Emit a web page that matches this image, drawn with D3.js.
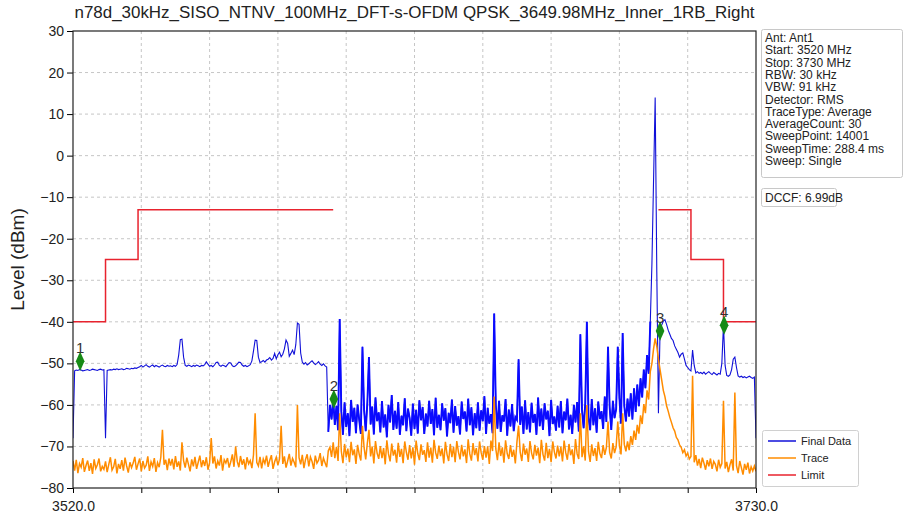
<!DOCTYPE html>
<html><head><meta charset="utf-8">
<script src="https://cdn.jsdelivr.net/npm/d3@7"></script>
<style>body{margin:0;background:#fff}svg{display:block}text{font-family:"Liberation Sans",Arial,sans-serif}</style>
</head><body><svg id="c" width="905" height="516"></svg>
<script>
const title = "n78d_30kHz_SISO_NTNV_100MHz_DFT-s-OFDM QPSK_3649.98MHz_Inner_1RB_Right";
const freqStart = 3520, freqStop = 3730, freqStep = 0.5;
const xTicks = [3520,3541,3562,3583,3604,3625,3646,3667,3688,3709,3730];
const xTickLabels = ["3520.0","","","","","","","","","","3730.0"];
const yTicks = [30,20,10,0,-10,-20,-30,-40,-50,-60,-70,-80];
// Final Data (one value per 0.5 MHz)
const finalData = [
-68,-51.8,-51.6,-51.7,-51.5,-51.6,-51.8,-51.7,-51.6,-51.5,-51.7,-51.6,-51.4,-51.5,-51.6,-51.7,-51.5,-51.4,-51.6,-51.5,
-68,-51.7,-51.6,-51.5,-51.6,-51.4,-51.5,-51.3,-51.5,-51.4,-51.3,-51.5,-51.4,-51.2,-51.3,-51.4,-51.2,-51.3,-51.1,-51.2,
-51.0,-50.8,-50.5,-50.9,-50.6,-50.3,-50.7,-50.9,-50.6,-50.4,-50.8,-50.5,-50.7,-50.9,-50.6,-50.4,-50.7,-50.8,-50.5,-50.7,
-50.6,-50.8,-50.5,-50.7,-50.3,-48.0,-44.3,-44.2,-48.5,-50.5,-50.7,-50.4,-50.6,-50.8,-50.5,-50.7,-50.4,-50.6,-50.8,-50.5,
-50.6,-50.3,-49.6,-50.2,-50.7,-50.5,-50.8,-50.4,-49.8,-49.7,-50.5,-50.7,-50.4,-50.6,-50.8,-50.3,-49.8,-49.9,-50.6,-50.8,
-50.6,-50.2,-49.7,-49.8,-50.4,-50.7,-50.5,-50.8,-50.6,-50.3,-49.4,-47.0,-44.4,-44.5,-48.5,-49.8,-49.6,-49.3,-49.7,-49.2,
-49.0,-48.6,-49.2,-48.8,-47.6,-48.9,-47.9,-47.3,-48.4,-47.8,-46.5,-44.4,-45.2,-48.3,-47.6,-46.8,-47.9,-45.5,-40.3,-40.6,
-47.5,-49.7,-50.2,-49.8,-50.4,-50.1,-49.7,-49.4,-49.9,-50.3,-50.0,-49.6,-50.2,-50.5,-50.1,-50.6,-50.9,-66.5,-60.0,-63.5,
-58.6,-64.8,-60.2,-66.1,-39.3,-61.5,-67.2,-59.4,-65.3,-62.0,-67.5,-58.8,-64.1,-60.7,-66.8,-59.9,-63.6,-67.0,-46.0,-61.2,
-66.3,-59.5,-48.5,-64.7,-60.4,-67.1,-58.2,-63.9,-61.8,-66.6,-59.1,-65.4,-62.3,-67.8,-60.0,-64.2,-57.6,-66.0,-61.4,-65.7,
-59.3,-67.2,-62.6,-64.9,-58.4,-66.3,-60.9,-63.1,-67.4,-59.7,-65.8,-61.2,-66.9,-58.9,-63.7,-60.5,-67.0,-62.1,-65.2,-59.0,
-64.6,-61.0,-67.3,-58.3,-65.5,-62.4,-66.1,-59.6,-63.8,-60.8,-67.6,-61.9,-64.4,-58.7,-66.7,-60.3,-65.0,-62.7,-67.1,-59.2,
-63.4,-61.6,-66.4,-58.5,-64.9,-60.6,-67.3,-62.0,-65.6,-59.4,-66.2,-61.3,-63.9,-57.9,-67.0,-60.7,-64.5,-62.2,-66.8,-38.0,
-60.1,-65.7,-59.0,-66.5,-62.5,-64.0,-58.6,-67.4,-61.1,-65.2,-59.8,-66.3,-62.9,-63.6,-49.0,-64.8,-60.4,-67.0,-58.9,-65.9,
-61.7,-66.6,-59.5,-64.3,-62.2,-67.2,-58.2,-65.1,-60.9,-66.0,-59.6,-63.5,-61.4,-67.5,-58.8,-64.6,-62.8,-66.2,-60.2,-65.4,
-59.1,-66.8,-61.6,-63.7,-58.5,-65.9,-62.4,-67.0,-60.0,-64.2,-59.3,-66.4,-43.0,-61.2,-65.6,-59.7,-40.0,-63.0,-66.1,-58.6,
-64.9,-60.8,-66.7,-59.2,-63.4,-61.5,-65.8,-58.0,-64.1,-46.0,-60.5,-66.0,-59.0,-63.2,-61.0,-46.0,-58.3,-64.5,-42.7,-60.2,
-64.0,-58.5,-62.8,-57.2,-63.5,-56.0,-61.7,-55.1,-60.3,-53.6,-58.2,-51.5,-56.0,-48.0,-52.5,-40.0,-26.0,-6.0,14.0,-28.0,
-62.0,-42.2,-40.8,-39.8,-39.5,-40.6,-42.0,-43.0,-44.0,-44.5,-45.8,-46.6,-47.4,-48.5,-47.8,-47.5,-49.0,-50.5,-51.0,-51.5,
-51.8,-46.8,-50.5,-52.3,-52.0,-52.4,-52.2,-52.5,-52.1,-52.6,-52.3,-52.0,-52.4,-52.7,-52.2,-52.5,-52.8,-52.4,-52.6,-50.0,
-40.8,-50.5,-52.9,-53.1,-52.8,-51.5,-49.0,-48.5,-51.0,-53.0,-53.3,-53.1,-53.4,-53.2,-53.5,-53.3,-53.1,-53.4,-53.6,-53.3,
-68];
// Trace (one value per 0.5 MHz)
const traceData = [
-73.5,-75.8,-73.2,-76.4,-74.1,-75.0,-72.8,-76.1,-74.6,-73.4,-75.9,-74.0,-76.6,-73.1,-75.3,-74.4,-72.9,-76.0,-74.8,-75.5,
-73.6,-76.2,-74.3,-72.6,-75.7,-74.9,-73.0,-76.5,-74.2,-75.4,-73.3,-75.8,-72.7,-74.7,-76.3,-73.8,-75.1,-74.0,-72.5,-75.6,
-74.2,-72.9,-76.0,-73.5,-75.2,-74.5,-72.4,-75.9,-73.7,-74.8,-72.8,-76.1,-73.9,-75.0,-72.6,-66.0,-74.4,-73.2,-75.7,-72.9,
-74.6,-73.0,-75.5,-72.3,-74.9,-73.6,-75.8,-69.0,-73.4,-75.1,-72.7,-74.3,-76.0,-73.1,-74.8,-72.5,-75.4,-73.8,-72.2,-75.0,
-73.3,-74.7,-72.6,-75.6,-73.9,-68.0,-74.1,-72.4,-75.3,-73.5,-74.6,-72.1,-75.8,-73.2,-74.0,-72.8,-75.1,-73.7,-71.9,-74.9,
-70.0,-73.6,-75.0,-72.3,-74.4,-73.1,-75.5,-72.6,-74.2,-73.4,-75.2,-72.0,-62.0,-73.8,-74.7,-72.5,-75.3,-73.0,-74.1,-72.2,
-74.9,-73.3,-72.1,-75.4,-73.7,-72.6,-74.5,-73.0,-65.0,-74.2,-72.4,-75.1,-73.5,-71.8,-74.6,-72.9,-73.8,-75.0,-60.0,-72.7,
-74.3,-72.0,-75.2,-73.1,-71.9,-74.8,-72.5,-73.6,-75.4,-72.2,-74.0,-73.3,-71.6,-74.7,-72.8,-73.9,-75.0,-71.0,-70.2,-72.5,
-69.0,-72.8,-70.1,-73.5,-62.0,-71.2,-74.0,-69.4,-72.6,-70.5,-73.8,-68.9,-72.1,-70.7,-74.2,-69.6,-71.9,-73.4,-65.0,-70.3,
-73.1,-69.2,-66.0,-72.4,-70.0,-74.1,-68.7,-71.6,-73.0,-69.9,-72.8,-70.4,-74.3,-68.5,-71.8,-73.6,-69.3,-72.2,-70.8,-73.9,
-69.1,-72.5,-70.6,-74.0,-68.8,-71.4,-73.2,-69.7,-72.9,-70.2,-74.4,-68.6,-71.7,-73.3,-69.5,-72.0,-70.9,-73.7,-69.0,-72.7,
-70.3,-73.9,-68.4,-71.5,-73.0,-69.8,-72.3,-70.5,-74.1,-68.9,-71.9,-73.5,-69.4,-72.6,-70.1,-73.8,-68.7,-71.3,-73.1,-69.6,
-72.4,-70.7,-74.0,-68.3,-71.8,-73.4,-69.2,-72.1,-70.4,-73.6,-68.8,-71.5,-73.2,-69.9,-72.7,-70.0,-74.2,-68.6,-71.1,-58.0,
-70.6,-73.3,-69.0,-72.3,-70.2,-73.9,-68.5,-71.7,-73.0,-69.7,-72.5,-70.8,-74.1,-68.9,-65.0,-71.4,-73.5,-69.3,-72.0,-70.5,
-73.7,-68.7,-71.6,-73.1,-69.6,-72.2,-70.3,-74.0,-68.4,-71.9,-73.4,-69.1,-72.8,-70.6,-73.8,-68.8,-71.3,-72.9,-69.8,-72.4,
-70.1,-73.6,-68.6,-71.5,-73.2,-69.4,-72.1,-70.7,-74.2,-68.2,-71.8,-73.0,-62.0,-72.6,-70.0,-73.4,-60.0,-71.2,-73.7,-69.5,
-72.3,-70.4,-73.5,-68.9,-71.7,-72.8,-69.7,-72.0,-70.2,-64.0,-71.4,-72.9,-69.2,-71.6,-70.1,-64.0,-69.8,-71.9,-62.0,-69.5,
-71.2,-68.8,-70.9,-67.5,-69.6,-66.2,-68.4,-64.8,-66.9,-62.5,-64.6,-59.8,-62.0,-56.5,-58.7,-52.0,-50.0,-46.5,-44.0,-46.0,
-49.0,-51.5,-54.0,-56.5,-58.0,-60.2,-61.5,-63.0,-64.2,-65.5,-66.3,-67.8,-68.4,-69.6,-70.2,-71.5,-70.8,-72.3,-71.6,-73.0,
-72.4,-53.0,-73.8,-72.1,-74.6,-73.0,-75.2,-72.7,-74.0,-75.6,-73.3,-74.8,-72.9,-75.4,-73.6,-74.3,-76.0,-73.2,-75.0,-74.1,
-59.0,-75.3,-73.7,-76.2,-74.4,-73.1,-75.8,-57.0,-74.6,-76.4,-73.5,-75.1,-76.8,-74.2,-75.6,-73.9,-76.5,-74.9,-75.9,-74.7,
-76.0];
const limitLeftFreq = [3520,3530,3530,3540,3540,3600];
const limitLeftLevel = [-40,-40,-25,-25,-13,-13];
const limitRightFreq = [3700,3710,3710,3720,3720,3730];
const limitRightLevel = [-13,-13,-25,-25,-40,-40];
const markerFreq = [3522.2,3600.2,3700.5,3720.2];
const markerLevel = [-49.5,-58.6,-42.2,-40.8];
const markerLabels = ["1","2","3","4"];
const infoLines = ["Ant: Ant1","Start: 3520 MHz","Stop: 3730 MHz","RBW: 30 kHz","VBW: 91 kHz","Detector: RMS","TraceType: Average","AverageCount: 30","SweepPoint: 14001","SweepTime: 288.4 ms","Sweep: Single"];
const dccfText = "DCCF: 6.99dB";
const legendNames = ["Final Data","Trace","Limit"];
const colors = {final:"#1010d8", trace:"#ff8c00", limit:"#e8232e", marker:"#168a16"};

const svg = d3.select("#c");
const L=73,R=756,T=31,B=488;
const x = d3.scaleLinear().domain([freqStart,freqStop]).range([L,R]);
const y = d3.scaleLinear().domain([-80,30]).range([B,T]);

svg.append("text").attr("x",(L+R)/2).attr("y",18).attr("text-anchor","middle")
  .attr("font-size",16).attr("fill","#222").attr("textLength",680).attr("lengthAdjust","spacingAndGlyphs").text(title);

// grid
const g = svg.append("g");
g.selectAll(".vg").data(xTicks.slice(1,-1)).join("line").attr("x1",d=>x(d)).attr("x2",d=>x(d)).attr("y1",T).attr("y2",B)
  .attr("stroke","#b8b8b8").attr("stroke-width",0.8).attr("stroke-dasharray","3,3");
g.selectAll(".hg").data(yTicks.slice(1,-1)).join("line").attr("y1",d=>y(d)).attr("y2",d=>y(d)).attr("x1",L).attr("x2",R)
  .attr("stroke","#b8b8b8").attr("stroke-width",0.8).attr("stroke-dasharray","3,3");

svg.append("clipPath").attr("id","pc").append("rect").attr("x",L).attr("y",T).attr("width",R-L).attr("height",B-T);
const plot = svg.append("g").attr("clip-path","url(#pc)");
const line = d3.line().x(d=>x(d[0])).y(d=>y(d[1]));
const fd = finalData.map((v,i)=>[freqStart+i*freqStep,v]);
const td = traceData.map((v,i)=>[freqStart+i*freqStep,v]);
plot.append("path").attr("d",line(fd)).attr("fill","none").attr("stroke",colors.final).attr("stroke-width",1.1);
// dense in-channel section drawn heavier (14001-point sweep looks solid there)
plot.append("path").attr("d",line(fd.slice(157,356))).attr("fill","none").attr("stroke","#0a0aff").attr("stroke-width",1.9);
plot.append("path").attr("d",line(td)).attr("fill","none").attr("stroke",colors.trace).attr("stroke-width",1.5);
plot.append("path").attr("d",line(limitLeftFreq.map((f,i)=>[f,limitLeftLevel[i]]))).attr("fill","none").attr("stroke",colors.limit).attr("stroke-width",1.5);
plot.append("path").attr("d",line(limitRightFreq.map((f,i)=>[f,limitRightLevel[i]]))).attr("fill","none").attr("stroke",colors.limit).attr("stroke-width",1.5);

// markers
const sym = d3.symbol().type(d3.symbolDiamond).size(90);
markerFreq.forEach((f,i)=>{
  svg.append("path").attr("d",sym()).attr("transform",`translate(${x(f)},${y(markerLevel[i])}) scale(0.85,1.1)`).attr("fill",colors.marker);
  svg.append("text").attr("x",x(f)).attr("y",y(markerLevel[i])-8).attr("text-anchor","middle").attr("font-size",15).attr("fill","#333").text(markerLabels[i]);
});

// axes
const xa = svg.append("g").attr("transform",`translate(0,${B})`).call(d3.axisBottom(x).tickValues(xTicks).tickFormat((d,i)=>xTickLabels[i]).tickSize(5).tickSizeOuter(0));
xa.selectAll("text").attr("font-size",14).attr("fill","#222").attr("dy","1.05em");
const ya = svg.append("g").attr("transform",`translate(${L},0)`).call(d3.axisLeft(y).tickValues(yTicks).tickSize(6).tickSizeOuter(0));
ya.selectAll("text").attr("font-size",14).attr("fill","#222");
svg.selectAll(".domain").remove();
svg.append("rect").attr("x",L).attr("y",T).attr("width",R-L).attr("height",B-T).attr("fill","none").attr("stroke","#222").attr("stroke-width",1.2);

svg.append("text").attr("transform",`translate(24,${(T+B)/2}) rotate(-90)`).attr("text-anchor","middle").attr("font-size",19).attr("fill","#222").text("Level (dBm)");
svg.append("text").attr("x",(L+R)/2).attr("y",529).attr("text-anchor","middle").attr("font-size",18).attr("fill","#bbb").text("Frequency (MHz)");

// info box
svg.append("rect").attr("x",761.5).attr("y",29.5).attr("width",141).attr("height",148).attr("rx",2).attr("fill","#fff").attr("stroke","#c8c8c8");
svg.selectAll(".info").data(infoLines).join("text").attr("x",765).attr("y",(d,i)=>42+i*12.3).attr("font-size",12).attr("fill","#222").text(d=>d);
svg.append("rect").attr("x",761.5).attr("y",188.5).attr("width",75).attr("height",18).attr("rx",2).attr("fill","#fff").attr("stroke","#c8c8c8");
svg.append("text").attr("x",765).attr("y",202).attr("font-size",12).attr("fill","#222").text(dccfText);

// legend
const lc = [colors.final,colors.trace,colors.limit];
svg.append("rect").attr("x",762.5).attr("y",430.5).attr("width",96).attr("height",56).attr("rx",2).attr("fill","#fff").attr("stroke","#d0d0d0");
legendNames.forEach((n,i)=>{
  const yy = 441+i*17;
  svg.append("line").attr("x1",768).attr("x2",796).attr("y1",yy).attr("y2",yy).attr("stroke",lc[i]).attr("stroke-width",1.5);
  svg.append("text").attr("x",801).attr("y",yy+4).attr("font-size",11).attr("fill","#222").text(n);
});
</script></body></html>
